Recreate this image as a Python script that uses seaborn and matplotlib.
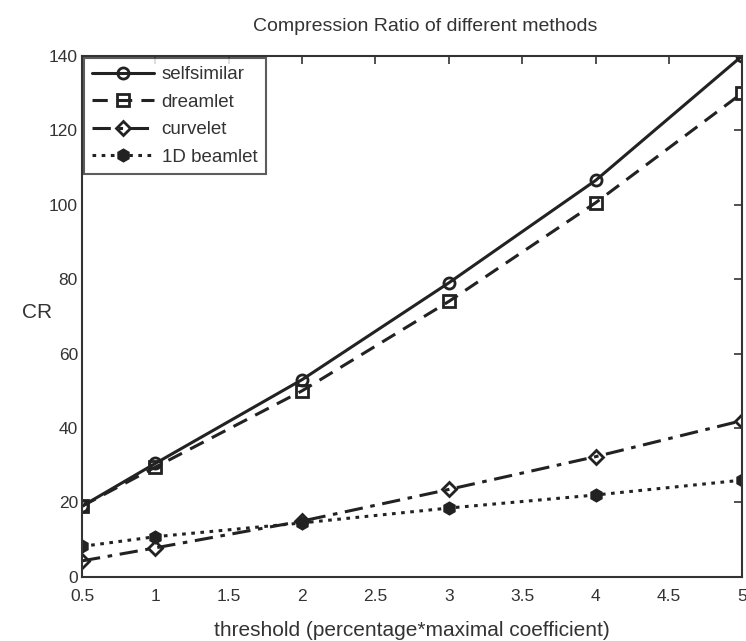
import matplotlib
matplotlib.use("Agg")
import matplotlib.pyplot as plt
import seaborn as sns
import pandas as pd

thresholds = [0.5, 1, 2, 3, 4, 5]
selfsimilar = [19, 30.5, 53, 79, 106.5, 140]
dreamlet = [19, 29.5, 50, 74, 100.5, 130]
curvelet = [4.3, 7.8, 15, 23.5, 32.3, 42]
beamlet_1d = [8.2, 10.8, 14.5, 18.5, 22, 26]
methods = ["selfsimilar", "dreamlet", "curvelet", "1D beamlet"]

df = pd.DataFrame({
    "threshold": thresholds * 4,
    "CR": selfsimilar + dreamlet + curvelet + beamlet_1d,
    "method": sum([[m] * len(thresholds) for m in methods], []),
})

sns.set_style("white")
plt.rcParams["font.family"] = ["Liberation Sans", "DejaVu Sans"]

fig = plt.figure(figsize=(7.46, 6.41), dpi=100)
ax = fig.add_axes([0.110, 0.100, 0.885, 0.813])

styles = {
    "selfsimilar": dict(linestyle="-", marker="o", mfc="none", ms=8),
    "dreamlet": dict(linestyle=(0, (5, 3)), marker="s", mfc="none", ms=8),
    "curvelet": dict(linestyle=(0, (6, 2.5, 1.5, 2.5)), marker="D", mfc="none", ms=7),
    "1D beamlet": dict(linestyle=(0, (1.2, 1.8)), marker="h", mfc="#222222", ms=8),
}
for m in methods:
    st = styles[m]
    sub = df[df["method"] == m]
    sns.lineplot(data=sub, x="threshold", y="CR", ax=ax, color="#222222",
                 linewidth=2.2, linestyle=st["linestyle"], marker=st["marker"],
                 markerfacecolor=st["mfc"], markeredgecolor="#222222",
                 markeredgewidth=2, markersize=st["ms"], label=m)

ax.set_xlim(0.5, 5)
ax.set_ylim(0, 140)
ax.set_xticks([0.5, 1, 1.5, 2, 2.5, 3, 3.5, 4, 4.5, 5])
ax.set_xticklabels(["0.5", "1", "1.5", "2", "2.5", "3", "3.5", "4", "4.5", "5"])
ax.set_yticks(range(0, 141, 20))
ax.tick_params(direction="in", length=6, width=1.2, top=True, right=True,
               labelsize=12.5, colors="#333333")
ax.tick_params(axis="x", pad=9)
ax.tick_params(axis="y", pad=3)
for s in ax.spines.values():
    s.set_visible(True)
    s.set_color("#333333")
    s.set_linewidth(1.5)

ax.set_title("Compression Ratio of different methods", fontsize=14, color="#333333",
             pad=18, x=0.52)
ax.set_xlabel("threshold (percentage*maximal coefficient)", fontsize=15, color="#333333", labelpad=12)
ax.set_ylabel("CR", fontsize=15, color="#333333", rotation=0)
ax.yaxis.set_label_coords(-0.068, 0.49)

leg = ax.legend(loc="upper left", frameon=True, fancybox=False, fontsize=13.5,
                borderaxespad=0.1, handlelength=3.3, labelspacing=0.55,
                handletextpad=0.4, borderpad=0.45)
leg.get_frame().set_edgecolor("#333333")
leg.get_frame().set_linewidth(1.5)
for t in leg.get_texts():
    t.set_color("#333333")

fig.savefig("out.png", dpi=100)
